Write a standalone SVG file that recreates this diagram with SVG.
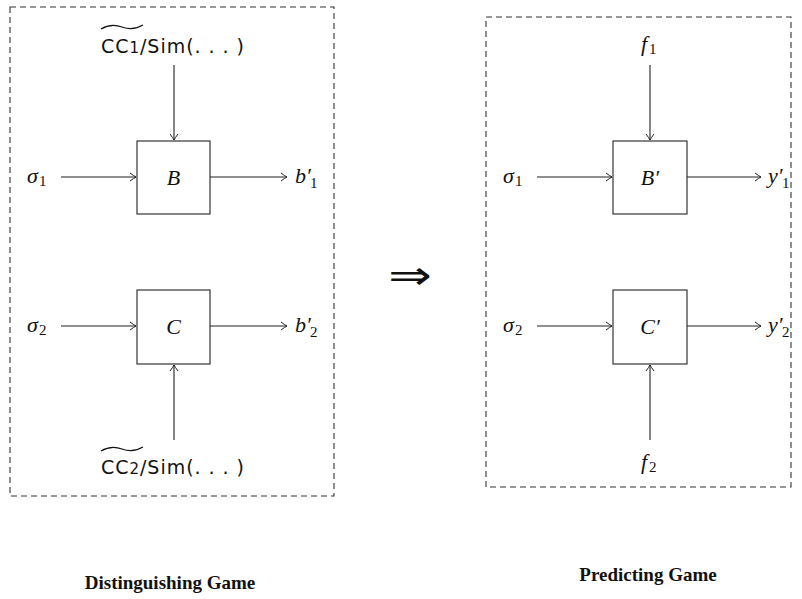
<svg xmlns="http://www.w3.org/2000/svg" width="802" height="599" viewBox="0 0 802 599">
<defs>
<marker id="arr" viewBox="-8 -5 10 10" refX="0" refY="0" markerWidth="10" markerHeight="10" markerUnits="userSpaceOnUse" orient="auto">
<path d="M-6,-4 Q-2,-1 0,0 Q-2,1 -6,4" fill="none" stroke="#222" stroke-width="1"/>
</marker>
</defs>
<style>
.frame{fill:none;stroke:#333;stroke-width:1.1;stroke-dasharray:6,4}
.box{fill:#fff;stroke:#222;stroke-width:1.1}
.ln{fill:none;stroke:#222;stroke-width:1.1;marker-end:url(#arr)}
.m{font-family:"Liberation Serif","DejaVu Serif",serif;font-style:italic;font-size:22px;fill:#111}
.s{font-family:"Liberation Serif","DejaVu Serif",serif;font-style:normal;font-size:15px;fill:#111}
.sf{font-family:"DejaVu Sans","Liberation Sans",sans-serif;font-size:19px;fill:#111}
.t{font-family:"Liberation Serif","DejaVu Serif",serif;font-weight:bold;font-size:19px;fill:#111}
.tl{fill:none;stroke:#111;stroke-width:1.2}
</style>
<rect class="frame" x="10" y="7" width="324" height="489"/>
<rect class="frame" x="486" y="17" width="305" height="470"/>
<g id="connectors">
<path class="ln" d="M174,65 V140"/>
<path class="ln" d="M61,177 H136"/>
<path class="ln" d="M210,177 H287"/>
<path class="ln" d="M61,326 H136"/>
<path class="ln" d="M210,326 H287"/>
<path class="ln" d="M174,440 V365"/>
<path class="ln" d="M650,65 V140"/>
<path class="ln" d="M537,177 H612"/>
<path class="ln" d="M687,177 H761"/>
<path class="ln" d="M537,326 H612"/>
<path class="ln" d="M687,326 H761"/>
<path class="ln" d="M650,440 V365"/>
</g>
<g id="B"><rect class="box" x="137" y="141" width="73" height="73"/><text class="m" x="173.5" y="185" text-anchor="middle">B</text></g>
<g id="C"><rect class="box" x="137" y="290" width="73" height="74"/><text class="m" x="173.5" y="334" text-anchor="middle">C</text></g>
<g id="Bp"><rect class="box" x="613" y="141" width="74" height="73"/><text class="m" x="650" y="185" text-anchor="middle">B′</text></g>
<g id="Cp"><rect class="box" x="613" y="290" width="74" height="74"/><text class="m" x="650" y="334" text-anchor="middle">C′</text></g>
<g id="in1"><text class="sf" x="101" y="53" textLength="143" lengthAdjust="spacing">CC<tspan font-size="15">1</tspan>/Sim(. . . )</text><path class="tl" d="M101,29 Q111,23 122,27 Q133,31 143,25"/></g>
<g id="in2"><text class="sf" x="101" y="474" textLength="143" lengthAdjust="spacing">CC<tspan font-size="15">2</tspan>/Sim(. . . )</text><path class="tl" d="M101,451 Q111,445 122,449 Q133,453 143,447"/></g>
<g id="s1"><text class="m" x="27" y="183">σ</text><text class="s" x="39" y="186">1</text></g>
<g id="s2"><text class="m" x="27" y="332">σ</text><text class="s" x="39" y="335">2</text></g>
<g id="s1r"><text class="m" x="503" y="183">σ</text><text class="s" x="515" y="186">1</text></g>
<g id="s2r"><text class="m" x="503" y="332">σ</text><text class="s" x="515" y="335">2</text></g>
<g id="b1"><text class="m" x="295" y="183">b′</text><text class="s" x="310" y="188">1</text></g>
<g id="b2"><text class="m" x="295" y="332">b′</text><text class="s" x="310" y="337">2</text></g>
<g id="y1"><text class="m" x="768" y="183">y′</text><text class="s" x="782" y="188">1</text></g>
<g id="y2"><text class="m" x="768" y="332">y′</text><text class="s" x="782" y="337">2</text></g>
<g id="f1"><text class="m" x="641" y="51">f</text><text class="s" x="649" y="54">1</text></g>
<g id="f2"><text class="m" x="641" y="469">f</text><text class="s" x="649" y="472">2</text></g>
<g id="implies"><text transform="translate(410,289) scale(1.3,1)" text-anchor="middle" font-family="DejaVu Sans,sans-serif" font-size="40" fill="#111">⇒</text></g>
<text class="t" x="170" y="589" text-anchor="middle">Distinguishing Game</text>
<text class="t" x="648" y="581" text-anchor="middle">Predicting Game</text>
</svg>
